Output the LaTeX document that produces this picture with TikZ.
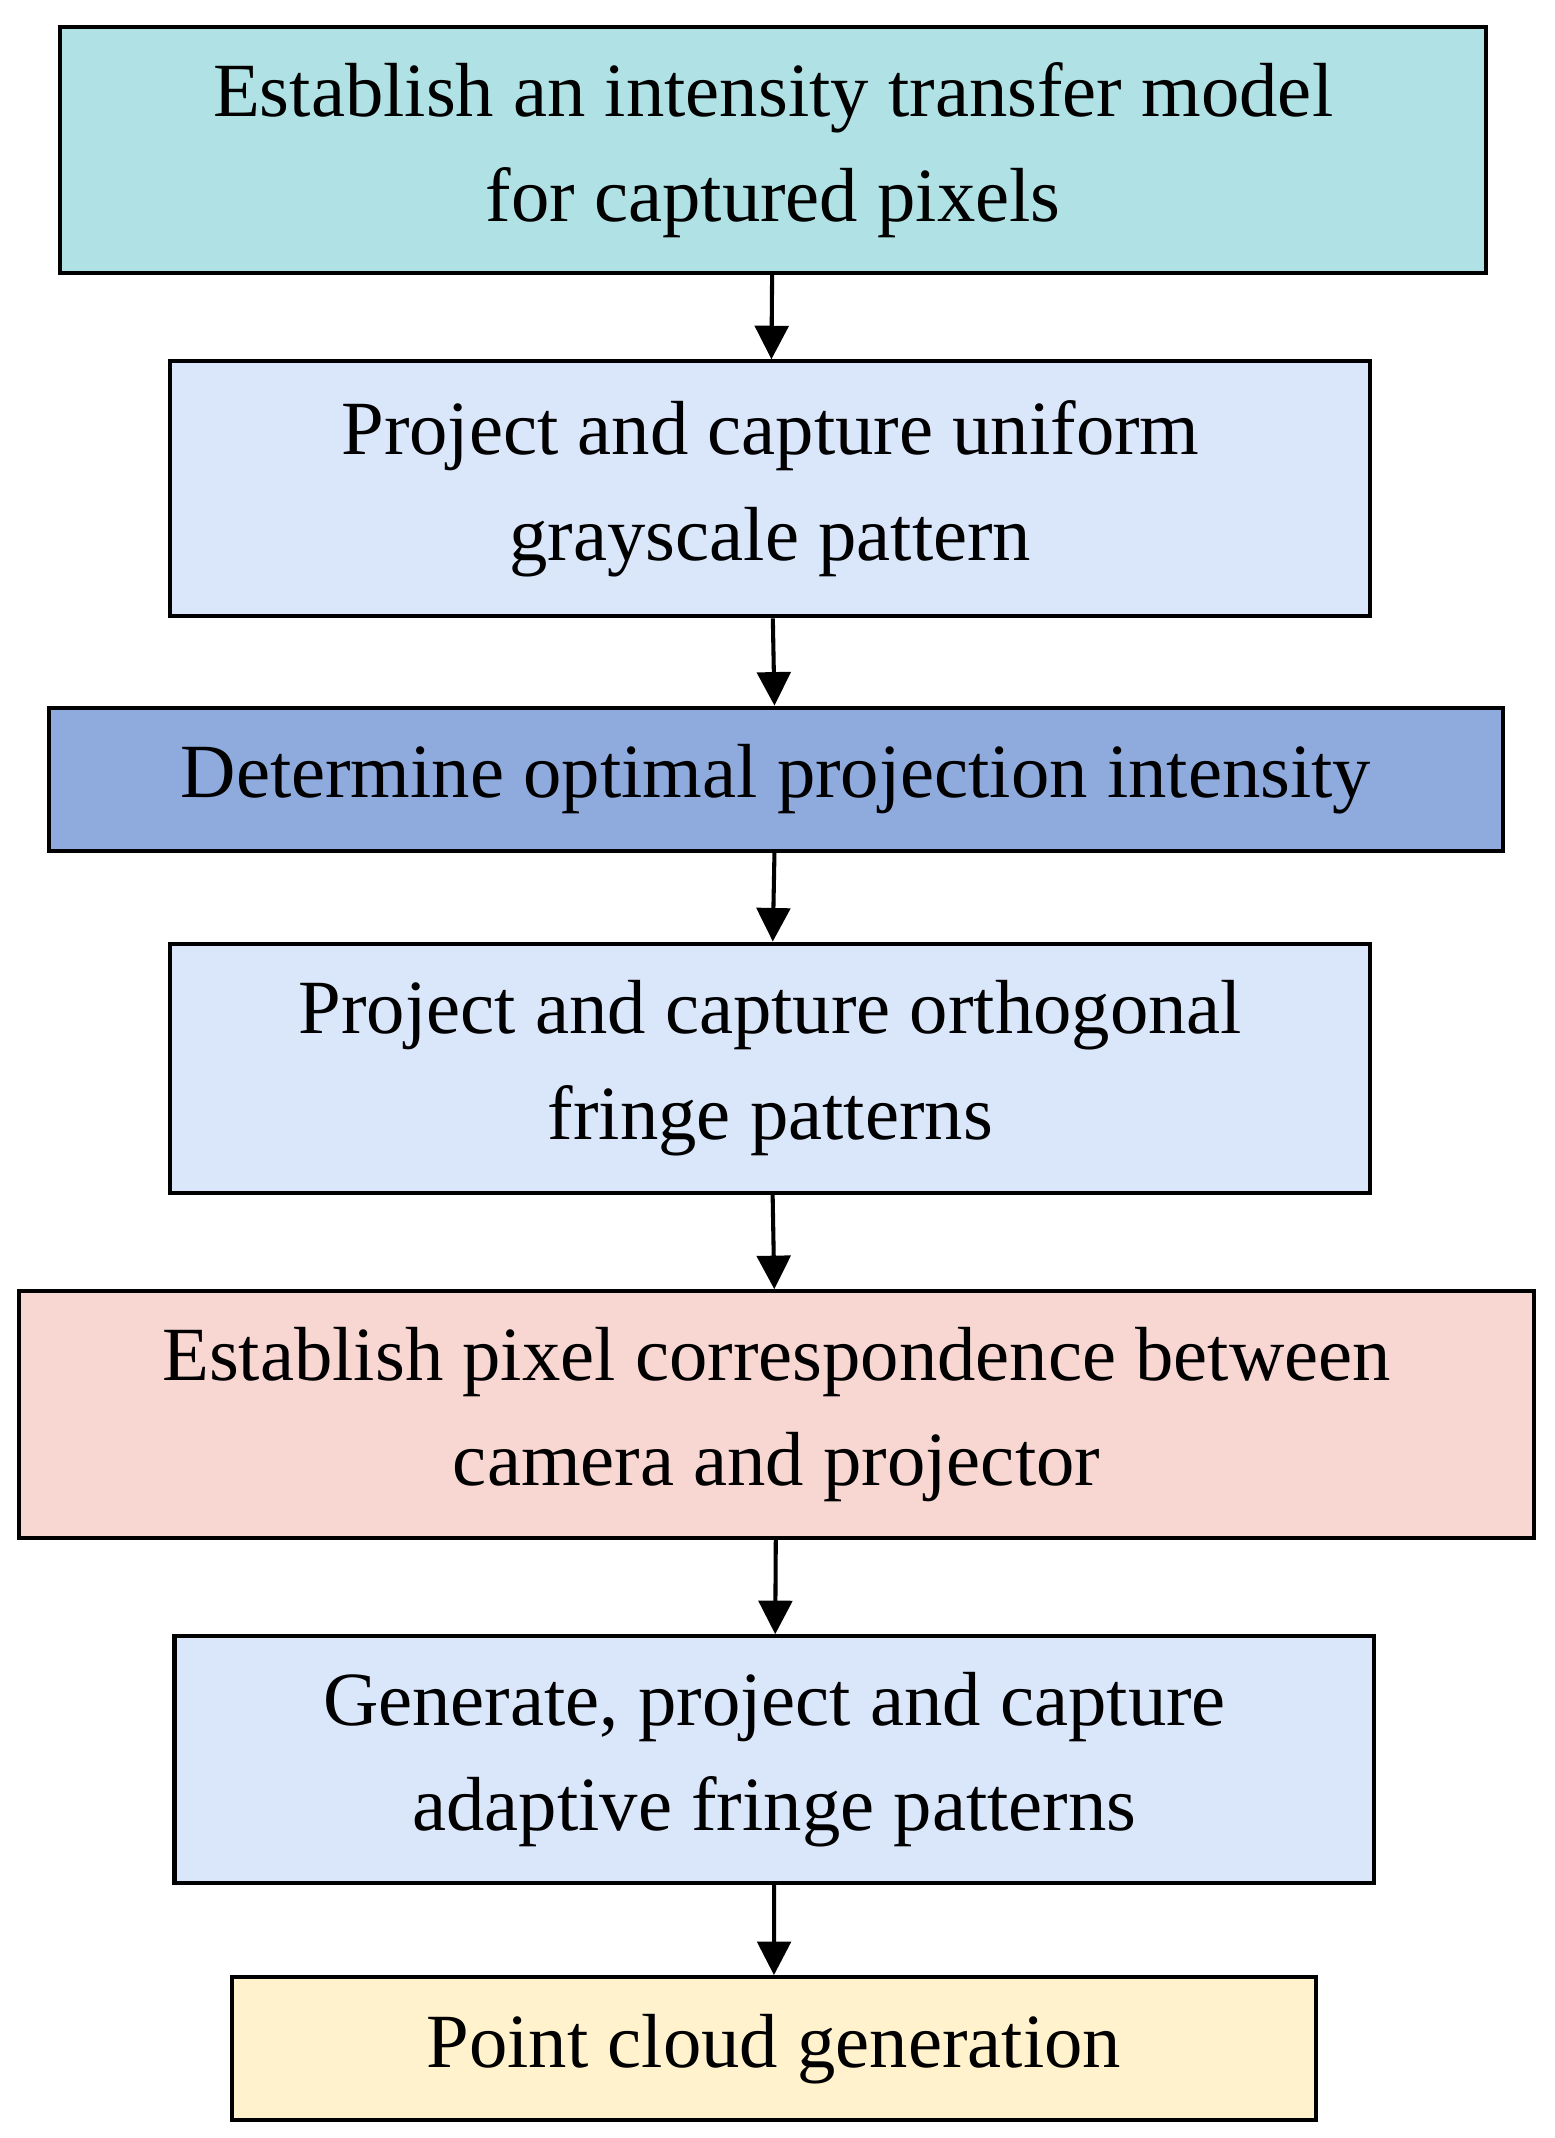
\documentclass[tikz,border=0pt]{standalone}
\usepackage{fontspec}
\setmainfont{Liberation Serif}
\usetikzlibrary{arrows.meta}
\definecolor{cteal}{HTML}{B0E1E4}
\definecolor{cblue}{HTML}{DAE6FA}
\definecolor{cmid}{HTML}{8FAADC}
\definecolor{cpink}{HTML}{F8D7D3}
\definecolor{cyel}{HTML}{FFF2CC}
\begin{document}
\begin{tikzpicture}[
    stage/.style={draw=black, line width=1.7pt, align=center, inner sep=0pt,
      font=\fontsize{32}{44}\selectfont},
    flow/.style={-{Triangle[length=14pt,width=14pt]}, line width=1.7pt}]
  \useasboundingbox (0,0) rectangle (22.8,-31.36);
  \node[stage, fill=cteal, minimum width=20.92cm, minimum height=3.6cm] (model) at (11.34,-2.2)
    {Establish an intensity transfer model\\for captured pixels};
  \node[stage, fill=cblue, minimum width=17.6cm, minimum height=3.74cm] (uniform) at (11.3,-7.17)
    {Project and capture uniform\\grayscale pattern};
  \node[stage, fill=cmid, minimum width=21.32cm, minimum height=2.1cm] (optimal) at (11.38,-11.43)
    {Determine optimal projection intensity};
  \node[stage, fill=cblue, minimum width=17.6cm, minimum height=3.66cm] (ortho) at (11.3,-15.67)
    {Project and capture orthogonal\\fringe patterns};
  \node[stage, fill=cpink, minimum width=22.22cm, minimum height=3.62cm] (corresp) at (11.39,-20.75)
    {Establish pixel correspondence between\\camera and projector};
  \node[stage, fill=cblue, minimum width=17.6cm, minimum height=3.62cm] (adaptive) at (11.36,-25.81)
    {Generate, project and capture\\adaptive fringe patterns};
  \node[stage, fill=cyel, minimum width=15.9cm, minimum height=2.1cm] (cloud) at (11.35,-30.05)
    {Point cloud generation};
  % arrows between the stages
  \draw[flow] (model) -- (uniform);
  \draw[flow] (uniform) -- (optimal);
  \draw[flow] (optimal) -- (ortho);
  \draw[flow] (ortho) -- (corresp);
  \draw[flow] (corresp) -- (adaptive);
  \draw[flow] (adaptive) -- (cloud);
\end{tikzpicture}
\end{document}
